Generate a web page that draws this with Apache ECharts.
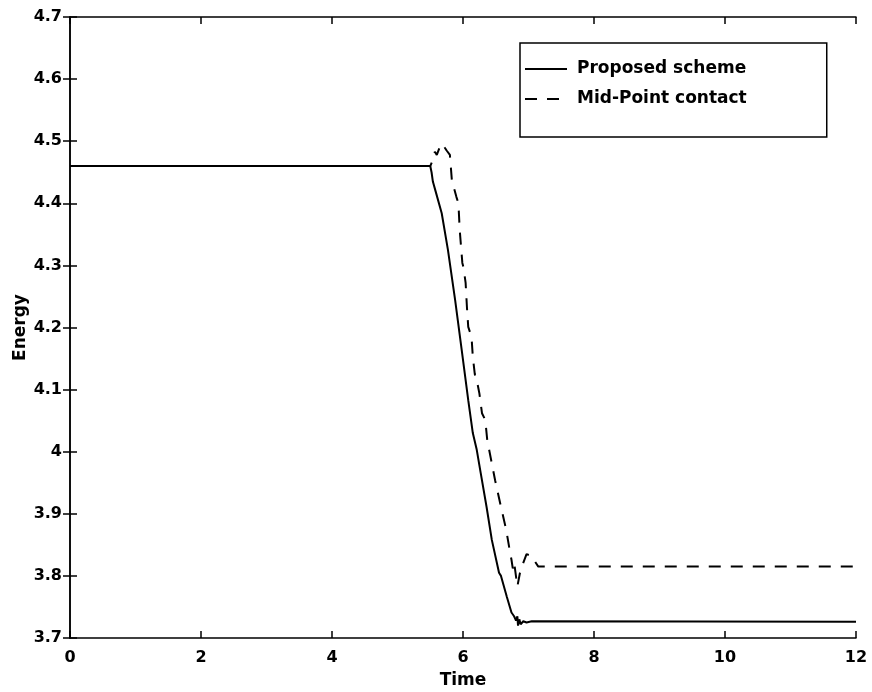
<!DOCTYPE html>
<html>
<head>
<meta charset="utf-8">
<script src="https://cdn.jsdelivr.net/npm/echarts@6/dist/echarts.min.js"></script>
<style>
html,body{margin:0;padding:0;background:#fff;}
#chart{width:872px;height:692px;}
</style>
</head>
<body>
<div id="chart"></div>
<script>
// ---- data ----
const seriesNames = ['Proposed scheme', 'Mid-Point contact'];
const xTicks = [0, 2, 4, 6, 8, 10, 12];
const yTicks = [3.7, 3.8, 3.9, 4.0, 4.1, 4.2, 4.3, 4.4, 4.5, 4.6, 4.7];

const propTime   = [0, 5.50, 5.52, 5.54, 5.58, 5.675, 5.77, 5.88, 5.98, 6.08, 6.15, 6.21, 6.27, 6.36, 6.44, 6.55, 6.58, 6.67, 6.74, 6.78, 6.81, 6.83, 6.84, 6.86, 6.88, 6.92, 6.97, 7.05, 12];
const propEnergy = [4.46, 4.46, 4.45, 4.435, 4.42, 4.384, 4.325, 4.244, 4.164, 4.083, 4.030, 4.003, 3.966, 3.911, 3.858, 3.805, 3.800, 3.766, 3.741, 3.735, 3.728, 3.735, 3.720, 3.730, 3.722, 3.727, 3.725, 3.727, 3.726];

const midTime   = [0, 5.50, 5.54, 5.57, 5.60, 5.65, 5.69, 5.72, 5.75, 5.80, 5.83, 5.90, 5.93, 5.95, 5.99, 6.00, 6.01, 6.04, 6.06, 6.08, 6.13, 6.15, 6.18, 6.20, 6.22, 6.25, 6.29, 6.34, 6.37, 6.49, 6.58, 6.66, 6.72, 6.74, 6.76, 6.78, 6.83, 6.87, 6.92, 6.97, 7.00, 7.05, 7.10, 7.15, 12];
const midEnergy = [4.46, 4.46, 4.47, 4.483, 4.478, 4.492, 4.496, 4.490, 4.485, 4.478, 4.437, 4.41, 4.40, 4.357, 4.304, 4.300, 4.295, 4.272, 4.233, 4.201, 4.185, 4.153, 4.125, 4.115, 4.110, 4.094, 4.062, 4.051, 4.019, 3.954, 3.911, 3.874, 3.837, 3.826, 3.812, 3.822, 3.783, 3.805, 3.821, 3.835, 3.838, 3.832, 3.823, 3.815, 3.815];

const toPairs = (xs, ys) => xs.map((x, i) => [x, ys[i]]);

const FONT = 'DejaVu Sans';
const chart = echarts.init(document.getElementById('chart'), null, {renderer: 'canvas'});

const axisLineStyle = {color: '#000', width: 1.5};
const option = {
  backgroundColor: '#fff',
  animation: false,
  grid: {left: 70, right: 16, top: 17, bottom: 54, show: false, containLabel: false, outerBoundsMode: 'none'},
  legend: {
    show: true,
    orient: 'vertical',
    left: 520,
    top: 43,
    data: seriesNames,
    backgroundColor: '#fff',
    borderColor: '#000',
    borderWidth: 1.5,
    padding: [16, 80, 28, 4],
    itemGap: 10,
    itemWidth: 42,
    itemHeight: 20,
    itemStyle: {opacity: 0},
    lineStyle: {width: 2},
    textStyle: {fontFamily: FONT, fontWeight: 'bold', fontSize: 17, color: '#000', padding: [0, 0, 0, 5], lineHeight: 20}
  },
  xAxis: [{
    type: 'value', min: xTicks[0], max: xTicks[xTicks.length - 1], interval: 2,
    position: 'bottom',
    name: 'Time', nameLocation: 'middle', nameGap: 34,
    nameTextStyle: {fontFamily: FONT, fontWeight: 'bold', fontSize: 17, color: '#000'},
    axisLine: {show: true, lineStyle: axisLineStyle},
    axisTick: {show: true, inside: true, length: 7, lineStyle: axisLineStyle},
    axisLabel: {show: true, margin: 12, fontFamily: FONT, fontWeight: 'bold', fontSize: 16, color: '#000'},
    splitLine: {show: false}
  }, {
    type: 'value', min: xTicks[0], max: xTicks[xTicks.length - 1], interval: 2,
    position: 'top',
    axisLine: {show: true, lineStyle: axisLineStyle},
    axisTick: {show: true, inside: true, length: 7, lineStyle: axisLineStyle},
    axisLabel: {show: false},
    splitLine: {show: false}
  }],
  yAxis: [{
    type: 'value', min: yTicks[0], max: yTicks[yTicks.length - 1], interval: 0.1,
    position: 'left',
    name: 'Energy', nameLocation: 'middle', nameGap: 41, nameMoveOverlap: false,
    nameTextStyle: {fontFamily: FONT, fontWeight: 'bold', fontSize: 17, color: '#000'},
    axisLine: {show: true, lineStyle: axisLineStyle},
    axisTick: {show: true, inside: true, length: 7, lineStyle: axisLineStyle},
    axisLabel: {show: true, margin: 8, fontFamily: FONT, fontWeight: 'bold', fontSize: 16, color: '#000',
      formatter: v => String(Math.round(v * 10) / 10)},
    splitLine: {show: false}
  }, {
    type: 'value', min: yTicks[0], max: yTicks[yTicks.length - 1], interval: 0.1,
    position: 'right',
    axisLine: {show: true, lineStyle: axisLineStyle},
    axisTick: {show: true, inside: true, length: 7, lineStyle: axisLineStyle},
    axisLabel: {show: false},
    splitLine: {show: false}
  }],
  series: [{
    name: seriesNames[0],
    type: 'line',
    xAxisIndex: 0, yAxisIndex: 0,
    data: toPairs(propTime, propEnergy),
    symbol: 'none', showSymbol: false,
    lineStyle: {color: '#000', width: 2, type: 'solid'},
    itemStyle: {color: '#000'},
    z: 3
  }, {
    name: seriesNames[1],
    type: 'line',
    xAxisIndex: 0, yAxisIndex: 0,
    data: toPairs(midTime, midEnergy),
    symbol: 'none', showSymbol: false,
    lineStyle: {color: '#000', width: 2, type: [12, 10]},
    itemStyle: {color: '#000'},
    z: 2
  }]
};
chart.setOption(option);
</script>
</body>
</html>
